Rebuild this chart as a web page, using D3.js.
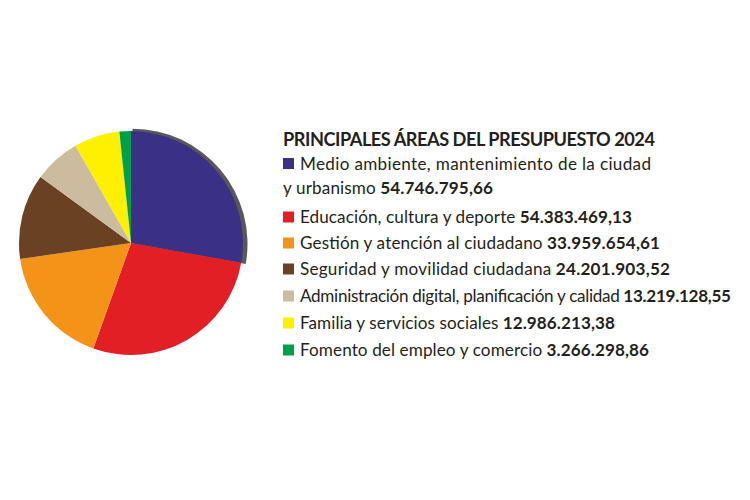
<!DOCTYPE html>
<html>
<head>
<meta charset="utf-8">
<script src="https://cdn.jsdelivr.net/npm/d3@7"></script>
<style>
  html, body { margin: 0; padding: 0; background: #ffffff; }
  svg { display: block; }
  text { font-family: Lato, "Open Sans", sans-serif; fill: #231f20; }
</style>
</head>
<body>
<svg id="chart" width="750" height="500"></svg>
<script>
const title = "PRINCIPALES ÁREAS DEL PRESUPUESTO 2024";
const categories = [
  "Medio ambiente, mantenimiento de la ciudad|y urbanismo",
  "Educación, cultura y deporte",
  "Gestión y atención al ciudadano",
  "Seguridad y movilidad ciudadana",
  "Administración digital, planificación y calidad",
  "Familia y servicios sociales",
  "Fomento del empleo y comercio"
];
const values = [54746795.66, 54383469.13, 33959654.61, 24201903.52, 13219128.55, 12986213.38, 3266298.86];
const valueLabels = ["54.746.795,66", "54.383.469,13", "33.959.654,61", "24.201.903,52", "13.219.128,55", "12.986.213,38", "3.266.298,86"];
const colors = ["#3a3186", "#e31f26", "#f39419", "#6b4123", "#cbbca0", "#fff000", "#00a04b"];

const svg = d3.select("#chart");
const cx = 131, cy = 243, r = 112;

const data = categories.map((c, i) => ({ name: c, value: values[i], label: valueLabels[i], color: colors[i] }));
const pie = d3.pie().value(d => d.value).sort(null);
const arcs = pie(data);
const arc = d3.arc().innerRadius(0).outerRadius(r);
const shadowArc = d3.arc().innerRadius(0).outerRadius(r + 3);

const g = svg.append("g").attr("transform", `translate(${cx},${cy})`);
// shadow edge behind the first slice
g.append("path")
  .attr("d", shadowArc(arcs[0]))
  .attr("transform", "translate(1.5,0.8)")
  .attr("fill", "#58585a");
g.selectAll("path.slice").data(arcs).join("path")
  .attr("class", "slice")
  .attr("d", arc)
  .attr("fill", d => d.data.color);

// legend layout
const lx = 283, tx = 300;
svg.append("text")
  .attr("x", lx).attr("y", 146)
  .attr("font-size", 18.2).attr("font-weight", 700)
  .attr("textLength", 655 - lx).attr("lengthAdjust", "spacing")
  .text(title);

const baselines = [[169.5, 194], [223], [249], [275], [302], [329], [356]];
const rightEnds = [[651, 493], [632], [660], [670], [731], [615], [649]];
const fs = 17.1;
data.forEach((d, i) => {
  const parts = d.name.split("|");
  const b = baselines[i];
  svg.append("rect")
    .attr("x", lx).attr("y", b[0] - 11.5)
    .attr("width", 11).attr("height", 11)
    .attr("fill", d.color);
  parts.forEach((p, j) => {
    const last = j === parts.length - 1;
    const x0 = j === 0 ? tx : lx;
    const t = svg.append("text")
      .attr("x", x0)
      .attr("y", b[j])
      .attr("font-size", fs)
      .attr("textLength", rightEnds[i][j] - x0)
      .attr("lengthAdjust", "spacing");
    t.append("tspan").text(p);
    if (last) {
      t.append("tspan").attr("font-weight", 700).text(" " + d.label);
    }
  });
});
</script>
</body>
</html>
